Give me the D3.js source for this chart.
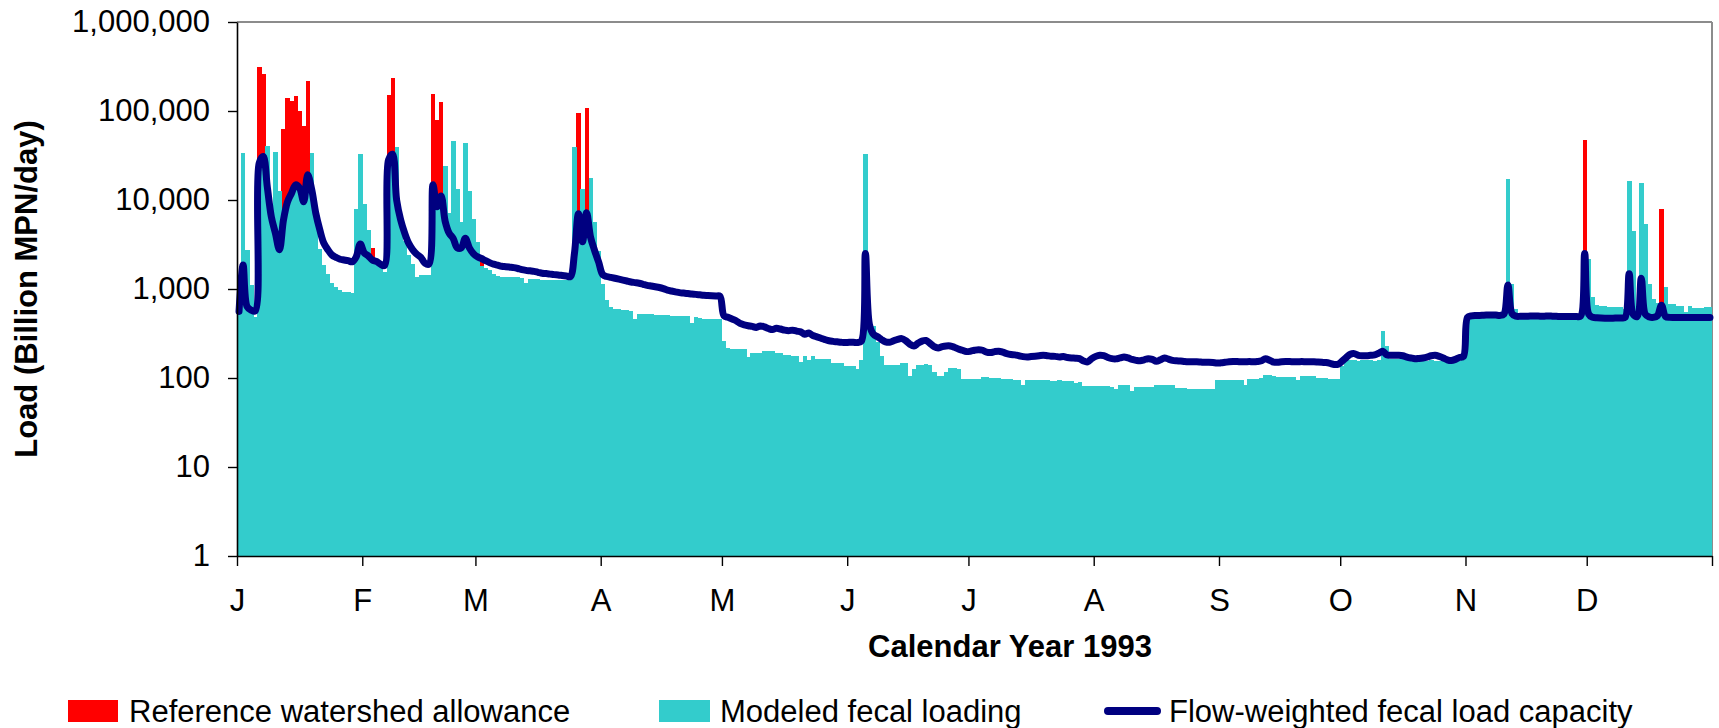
<!DOCTYPE html>
<html>
<head>
<meta charset="utf-8">
<script src="https://cdn.jsdelivr.net/npm/d3@7/dist/d3.min.js"></script>
<style>
  body { margin: 0; background: #fff; }
  text { font-family: "Liberation Sans", Arial, sans-serif; }
</style>
</head>
<body>
<div id="container"></div>
<script>
let w = 1719;
let h = 728;

// DATA (one value per day of 1993, billion MPN/day)
let monthLabels = ["J","F","M","A","M","J","J","A","S","O","N","D"];
let monthStarts = [0,31,59,90,120,151,181,212,243,273,304,334,365];
let yTicks = [1,10,100,1000,10000,100000,1000000];

// Modeled fecal loading
let modeled = [
  550,34000,2750,1100,480,24000,29000,40600,6000,34500,12600,5800,9300,11500,14300,13200,9300,18500,34000,6000,2800,1860,1475,1160,1060,975,930,914,900,7900,33000, // Jan
  9000,4570,2000,1900,1800,1570,27000,31000,39500,6000,3500,2400,1900,1360,1430,1420,1420,14000,8200,10500,24400,7100,46100,13300,5680,43900,12600,6170, // Feb
  3390,1800,1700,1650,1480,1400,1380,1380,1380,1380,1350,1340,1170,1290,1290,1280,1265,1265,1270,1265,1265,1260,1260,1250,39500,6700,13300,6900,17800,5680,2640, // Mar
  1137,760,627,600,590,580,575,570,461,530,525,520,520,515,510,510,505,500,500,500,495,495,419,480,470,465,461,461,461,461, // Apr
  260,218,214,214,214,214,172,189,189,189,202,202,202,189,189,180,180,175,175,152,175,161,177,164,164,164,164,149,149,149,138, // May
  138,138,127,160,33000,430,380,252,177,140,140,140,140,148,148,106,125,140,140,145,140,118,106,106,118,131,131,125,97,97, // Jun
  97,97,97,103,103,100,99,99,97,97,97,96,95,84,94,94,95,95,94,94,93,93,94,93,92,92,88,90,81,81,82, // Jul
  81,81,82,81,80,76,84,84,83,72,80,80,79,80,80,84,84,83,84,83,78,77,78,76,76,76,75,76,76,76,94, // Aug
  94,94,94,94,94,94,84,97,97,97,101,109,109,105,103,103,103,103,103,94,105,105,105,105,99,99,99,97,97,97, // Sep
  135,156,158,160,156,158,160,158,156,158,336,229,163,165,163,162,160,156,156,155,156,157,158,156,155,155,156,157,156,156,158, // Oct
  490,495,500,500,502,505,505,505,500,510,17200,1140,597,495,490,490,492,495,495,492,490,490,488,490,490,490,488,488,490,2400, // Nov
  2160,820,660,650,640,620,620,620,620,600,16400,4500,480,15600,5400,1140,772,690,640,1060,680,670,650,650,555,650,610,610,610,630,630 // Dec
];

// Flow-weighted fecal load capacity
let capacity = [
  560,1860,633,580,565,26100,30800,14000,6470,4240,2760,5970,9550,11900,14800,13600,9550,19200,13000,7100,4610,3260,2760,2410,2270,2160,2120,2080,2020,2300,3200, // Jan
  2540,2350,2120,2040,1900,1830,28300,32700,10000,5970,4240,3250,2760,2460,2270,1950,1900,14800,8400,11100,5800,4240,3700,2900,2900,3720,2900,2500, // Feb
  2300,2200,2080,1980,1900,1850,1800,1780,1760,1740,1700,1650,1620,1600,1580,1540,1500,1490,1470,1450,1440,1420,1400,1380,2500,7000,3400,7200,3800,2700,2000, // Mar
  1450,1380,1350,1320,1290,1260,1230,1200,1180,1160,1130,1100,1080,1060,1040,1010,970,950,930,910,900,890,877,870,860,850,845,840,835,830, // Apr
  500,480,460,440,410,395,387,380,370,385,375,360,350,362,355,345,340,345,336,330,310,320,300,290,280,270,262,258,255,252,250, // May
  252,252,250,260,2500,400,310,291,270,255,252,262,272,277,262,240,229,245,260,264,245,225,218,225,229,229,222,212,205,198, // Jun
  200,205,208,205,195,193,198,200,195,188,184,182,178,174,172,174,176,178,180,178,176,175,172,174,170,168,167,165,155,152,165, // Jul
  175,180,178,170,165,164,168,172,168,162,158,156,160,165,162,154,160,168,163,158,156,155,153,152,152,152,151,150,150,149,147, // Aug
  148,150,152,153,153,152,152,153,152,153,156,165,158,151,150,152,153,153,152,152,153,152,152,152,151,150,149,146,142,143, // Sep
  155,170,185,188,180,178,178,180,182,190,200,182,180,180,180,178,172,168,165,166,168,172,178,180,175,168,160,157,162,170,175, // Oct
  480,500,505,505,508,510,512,510,505,520,1110,530,495,493,495,495,497,497,495,495,497,495,493,490,490,490,490,490,495,2510, // Nov
  520,480,475,472,470,470,470,472,473,480,1480,520,490,1320,520,485,480,500,658,490,480,478,478,478,478,478,478,478,478,478,478 // Dec
];

// Reference watershed allowance: [day of year, value] where it shows above the modeled bars
let allowance = [
  [5,314000],[6,262000],[11,63000],[12,141000],[13,128000],[14,148000],[15,100000],[16,68000],[17,218000],
  [33,2890],[37,152000],[38,236000],[48,156000],[49,79500],[50,126000],[60,2300],
  [84,95700],[86,108000],[333,47700],[352,7940]
];

let seriesNames = ["Reference watershed allowance","Modeled fecal loading","Flow-weighted fecal load capacity"];

let plotLeft = 237, plotRight = 1712, plotTop = 22, plotBottom = 556;

let viz = d3.select("#container").append("svg")
    .attr("width", w)
    .attr("height", h)
    .style("background-color", "white");

let days = d3.range(365);
let xBand = d3.scaleBand().domain(days).range([plotLeft, plotRight]).paddingInner(0).paddingOuter(0);
let dayScale = d3.scaleLinear().domain([0, 365]).range([plotLeft, plotRight]);
let yScale = d3.scaleLog().domain([1, 1000000]).range([plotBottom, plotTop]);
let bw = xBand.bandwidth();

// plot frame (top and right in grey)
viz.append("line").attr("x1", plotLeft).attr("x2", plotRight).attr("y1", plotTop).attr("y2", plotTop)
  .attr("stroke", "#8c8c8c").attr("stroke-width", 2);
viz.append("line").attr("x1", plotRight).attr("x2", plotRight).attr("y1", plotTop).attr("y2", plotBottom)
  .attr("stroke", "#8c8c8c").attr("stroke-width", 2);

// red bars behind
viz.append("g").selectAll("rect").data(allowance).enter()
  .append("rect")
    .attr("x", d => xBand(d[0]))
    .attr("width", bw + 0.4)
    .attr("y", d => yScale(d[1]))
    .attr("height", d => plotBottom - yScale(d[1]))
    .attr("fill", "#ff0000")
    .attr("shape-rendering", "crispEdges");

// teal bars
viz.append("g").selectAll("rect").data(modeled).enter()
  .append("rect")
    .attr("x", (d, i) => xBand(i))
    .attr("width", bw + 0.4)
    .attr("y", d => yScale(d))
    .attr("height", d => plotBottom - yScale(d))
    .attr("fill", "#33cccc")
    .attr("shape-rendering", "crispEdges");

// capacity line
let lineMaker = d3.line()
  .x((d, i) => xBand(i) + bw / 2)
  .y(d => yScale(d))
  .curve(d3.curveCatmullRom.alpha(0.5));

viz.append("path")
  .datum(capacity)
  .attr("d", lineMaker)
  .attr("fill", "none")
  .attr("stroke", "#000080")
  .attr("stroke-width", 7)
  .attr("stroke-linejoin", "round")
  .attr("stroke-linecap", "round");

// axes
let yAxis = d3.axisLeft(yScale)
  .tickValues(yTicks)
  .tickFormat(d3.format(","))
  .tickSize(9)
  .tickSizeOuter(0)
  .tickPadding(18);

let yAxisGroup = viz.append("g").attr("transform", "translate(" + plotLeft + ",0)").call(yAxis);

let xAxis = d3.axisBottom(dayScale)
  .tickValues(monthStarts)
  .tickFormat((d, i) => monthLabels[i] || "")
  .tickSize(10)
  .tickSizeOuter(0)
  .tickPadding(23);

let xAxisGroup = viz.append("g").attr("transform", "translate(0," + plotBottom + ")").call(xAxis);

[yAxisGroup, xAxisGroup].forEach(function(g){
  g.select(".domain").attr("stroke", "#000").attr("stroke-width", 1.6);
  g.selectAll(".tick line").attr("stroke", "#000").attr("stroke-width", 1.4);
  g.selectAll(".tick text").attr("fill", "#000").style("font-size", "31px")
    .style("font-family", "'Liberation Sans', Arial, sans-serif");
});

// axis titles
viz.append("text")
  .attr("transform", "translate(37," + ((plotTop + plotBottom) / 2) + ") rotate(-90)")
  .attr("text-anchor", "middle")
  .style("font-size", "31px")
  .style("font-weight", "bold")
  .text("Load (Billion MPN/day)");

viz.append("text")
  .attr("x", 1010)
  .attr("y", 657)
  .attr("text-anchor", "middle")
  .style("font-size", "31px")
  .style("font-weight", "bold")
  .text("Calendar Year 1993");

// legend
let legend = viz.append("g");
legend.append("rect").attr("x", 68).attr("y", 700).attr("width", 50).attr("height", 22).attr("fill", "#ff0000");
legend.append("text").attr("x", 129).attr("y", 722).style("font-size", "31px").text(seriesNames[0]);
legend.append("rect").attr("x", 659).attr("y", 700).attr("width", 51).attr("height", 22).attr("fill", "#33cccc");
legend.append("text").attr("x", 720).attr("y", 722).style("font-size", "31px").text(seriesNames[1]);
legend.append("line").attr("x1", 1108).attr("x2", 1157).attr("y1", 711).attr("y2", 711)
  .attr("stroke", "#000080").attr("stroke-width", 8).attr("stroke-linecap", "round");
legend.append("text").attr("x", 1169).attr("y", 722).style("font-size", "31px").text(seriesNames[2]);
</script>
</body>
</html>
